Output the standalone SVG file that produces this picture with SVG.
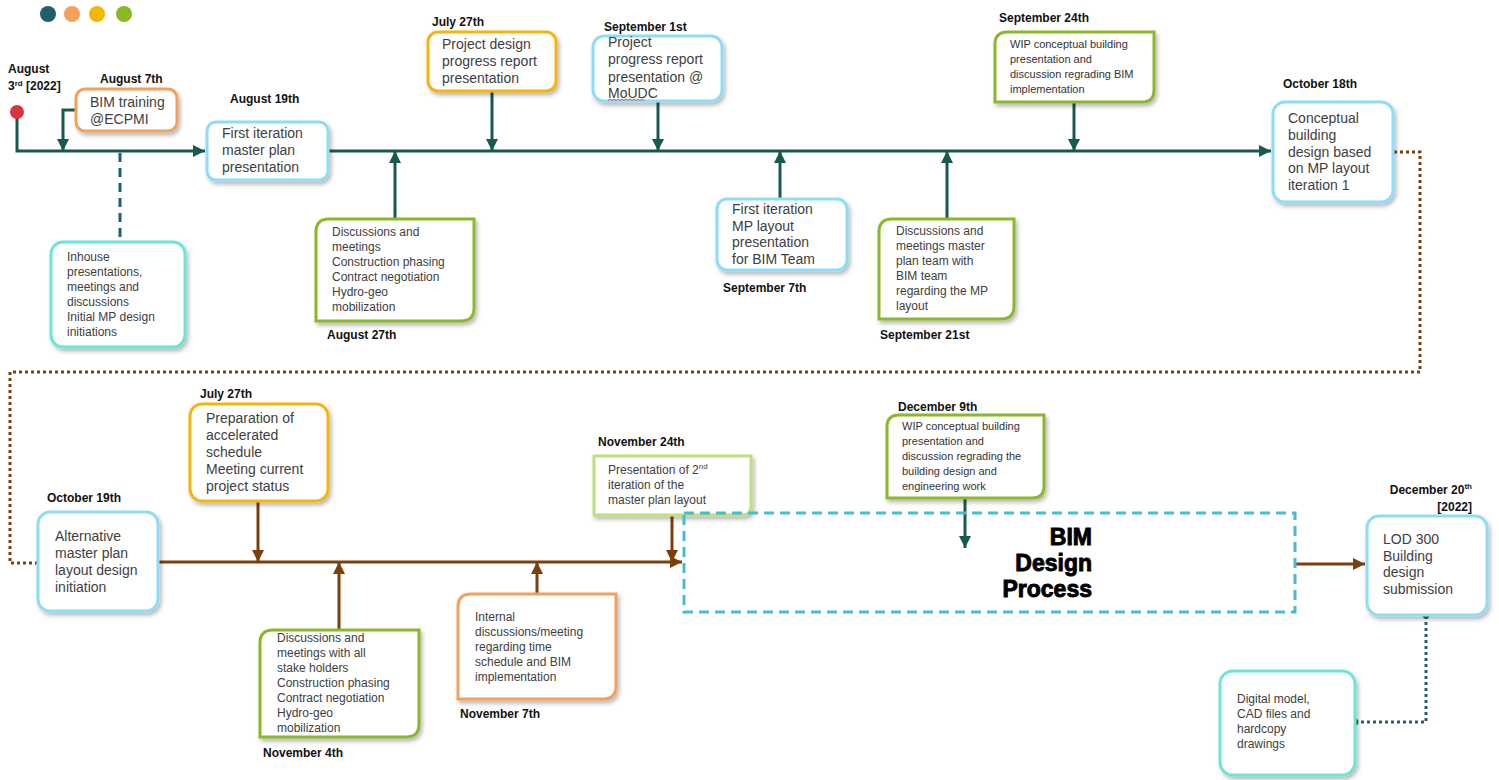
<svg xmlns="http://www.w3.org/2000/svg" width="1499" height="780" viewBox="0 0 1499 780">
<style>
.lbl{font-family:"Liberation Sans",Arial,sans-serif;font-weight:bold;font-size:12px;fill:#111}
.t14{font-family:"Liberation Sans",Arial,sans-serif;font-size:14px;fill:#404040}
.t12{font-family:"Liberation Sans",Arial,sans-serif;font-size:12px;fill:#404040}
.t11{font-family:"Liberation Sans",Arial,sans-serif;font-size:11px;fill:#333}
.box{fill:#fff;stroke-width:3}
.blue{stroke:#8fdcf7}.orange{stroke:#f2a05c}.yellow{stroke:#f5b50a}.green{stroke:#8ab82a}.turq{stroke:#6ae6d8}.lgreen{stroke:#b9e27c}
.tl{fill:none;stroke:#17594f;stroke-width:3}
.br{fill:none;stroke:#7b3f0a;stroke-width:3}
</style>
<defs>
<filter id="sh" x="-10%" y="-10%" width="130%" height="130%"><feDropShadow dx="2" dy="3" stdDeviation="2" flood-color="#000" flood-opacity="0.28"/></filter>
<marker id="at" markerUnits="userSpaceOnUse" markerWidth="12" markerHeight="12" viewBox="0 0 10 10" refX="10" refY="5" orient="auto"><path d="M0,0 L10,5 L0,10 z" fill="#17594f"/></marker>
<marker id="ab" markerUnits="userSpaceOnUse" markerWidth="12" markerHeight="12" viewBox="0 0 10 10" refX="10" refY="5" orient="auto"><path d="M0,0 L10,5 L0,10 z" fill="#7b3f0a"/></marker>
</defs>
<rect width="1499" height="780" fill="#fff"/>
<g id="legend-dots">
<circle cx="48" cy="14" r="8" fill="#1f5f6e"/>
<circle cx="72" cy="14" r="8" fill="#f2a05c"/>
<circle cx="97" cy="14" r="8" fill="#f5b800"/>
<circle cx="124" cy="14" r="8" fill="#8ab923"/>
</g>
<g id="connectors">
<path class="tl" d="M17,118 V151 H205" marker-end="url(#at)"/>
<path class="tl" d="M76,110 H63 V151" marker-end="url(#at)"/>
<path class="tl" d="M328,151 H1271" marker-end="url(#at)"/>
<path d="M120,153 V241" fill="none" stroke="#1f5f6e" stroke-width="3" stroke-dasharray="9,6"/>
<path class="tl" d="M395,219 V151" marker-end="url(#at)"/>
<path class="tl" d="M492,91 V151" marker-end="url(#at)"/>
<path class="tl" d="M658,102 V151" marker-end="url(#at)"/>
<path class="tl" d="M780,199 V151" marker-end="url(#at)"/>
<path class="tl" d="M947,218 V151" marker-end="url(#at)"/>
<path class="tl" d="M1074,103 V151" marker-end="url(#at)"/>
<path d="M1394,152 H1420 V372 H10 V563 H37" fill="none" stroke="#7b3f0a" stroke-width="3" stroke-dasharray="3,3"/>
<path class="br" d="M158,562 H682" marker-end="url(#ab)"/>
<path class="br" d="M258,501 V562" marker-end="url(#ab)"/>
<path class="br" d="M339,629 V562" marker-end="url(#ab)"/>
<path class="br" d="M537,593 V562" marker-end="url(#ab)"/>
<path class="br" d="M672,516 V562" marker-end="url(#ab)"/>
<path class="tl" d="M965,499 V548" marker-end="url(#at)"/>
<path class="br" d="M1296,564 H1365" marker-end="url(#ab)"/>
<path d="M1426,616 V722 H1357" fill="none" stroke="#2a5d6e" stroke-width="3" stroke-dasharray="3,3"/>
<circle cx="1426" cy="615" r="3.5" fill="#2e7d1e"/>
<circle cx="1355" cy="722" r="3.5" fill="#2e7d1e"/>
</g>
<g id="start">
<circle cx="17" cy="112" r="7" fill="#d9343f"/>
<text class="lbl" x="8" y="73">August</text>
<text class="lbl" x="8" y="90">3<tspan font-size="8" dy="-4">rd</tspan><tspan dy="4"> [2022]</tspan></text>
</g>
<g id="n-aug7">
<rect class="box orange" x="76" y="89" width="101" height="42" rx="9" filter="url(#sh)"/>
<text class="lbl" x="100" y="83">August 7th</text>
<text class="t14" x="90" y="107">BIM training</text>
<text class="t14" x="90" y="124">@ECPMI</text>
</g>
<g id="n-aug19">
<rect class="box blue" x="207" y="122" width="121" height="58" rx="9" filter="url(#sh)"/>
<text class="lbl" x="230" y="103">August 19th</text>
<text class="t14" x="222" y="138">First iteration</text>
<text class="t14" x="222" y="155">master plan</text>
<text class="t14" x="222" y="172">presentation</text>
</g>
<g id="n-inhouse">
<rect class="box turq" x="51" y="242" width="134" height="105" rx="12" filter="url(#sh)"/>
<text class="t12" x="67" y="261">Inhouse</text>
<text class="t12" x="67" y="276">presentations,</text>
<text class="t12" x="67" y="291">meetings and</text>
<text class="t12" x="67" y="306">discussions</text>
<text class="t12" x="67" y="321">Initial MP design</text>
<text class="t12" x="67" y="336">initiations</text>
</g>
<g id="n-aug27">
<path class="box green" d="M329,219 H474 V308 Q474,321 461,321 H316 V232 Q316,219 329,219 Z" filter="url(#sh)"/>
<text class="lbl" x="327" y="339">August 27th</text>
<text class="t12" x="332" y="236">Discussions and</text>
<text class="t12" x="332" y="251">meetings</text>
<text class="t12" x="332" y="266">Construction phasing</text>
<text class="t12" x="332" y="281">Contract negotiation</text>
<text class="t12" x="332" y="296">Hydro-geo</text>
<text class="t12" x="332" y="311">mobilization</text>
</g>
<g id="n-jul27a">
<rect class="box yellow" x="428" y="32" width="128" height="59" rx="10" filter="url(#sh)"/>
<text class="lbl" x="432" y="26">July 27th</text>
<text class="t14" x="442" y="49">Project design</text>
<text class="t14" x="442" y="66">progress report</text>
<text class="t14" x="442" y="83">presentation</text>
</g>
<g id="n-sep1">
<rect class="box blue" x="593" y="36" width="129" height="65" rx="11" filter="url(#sh)"/>
<text class="lbl" x="604" y="31">September 1st</text>
<text class="t14" x="608" y="47">Project</text>
<text class="t14" x="608" y="64">progress report</text>
<text class="t14" x="608" y="82">presentation @</text>
<text class="t14" x="608" y="98">MoUDC</text>
<path d="M608,100.5 l2,-1.5 l2,1.5 l2,-1.5 l2,1.5 l2,-1.5 l2,1.5 l2,-1.5 l2,1.5 l2,-1.5 l2,1.5 l2,-1.5 l2,1.5 l2,-1.5 l2,1.5 l2,-1.5 l2,1.5 l2,-1.5 l2,1.5" fill="none" stroke="#e03030" stroke-width="0.8"/>
</g>
<g id="n-sep7">
<rect class="box blue" x="717" y="199" width="130" height="71" rx="10" filter="url(#sh)"/>
<text class="lbl" x="723" y="292">September 7th</text>
<text class="t14" x="732" y="214">First iteration</text>
<text class="t14" x="732" y="231">MP layout</text>
<text class="t14" x="732" y="247">presentation</text>
<text class="t14" x="732" y="264">for BIM Team</text>
</g>
<g id="n-sep21">
<path class="box green" d="M892,219 H1014 V306 Q1014,319 1001,319 H879 V232 Q879,219 892,219 Z" filter="url(#sh)"/>
<text class="lbl" x="880" y="339">September 21st</text>
<text class="t12" x="896" y="235">Discussions and</text>
<text class="t12" x="896" y="250">meetings master</text>
<text class="t12" x="896" y="265">plan team with</text>
<text class="t12" x="896" y="280">BIM team</text>
<text class="t12" x="896" y="295">regarding the MP</text>
<text class="t12" x="896" y="310">layout</text>
</g>
<g id="n-sep24">
<path class="box green" d="M1008,32 H1154 V90 Q1154,102 1142,102 H995 V44 Q995,32 1008,32 Z" filter="url(#sh)"/>
<text class="lbl" x="999" y="22">September 24th</text>
<text class="t11" x="1010" y="48">WIP conceptual building</text>
<text class="t11" x="1010" y="63">presentation and</text>
<text class="t11" x="1010" y="78">discussion regrading BIM</text>
<text class="t11" x="1010" y="93">implementation</text>
</g>
<g id="n-oct18">
<rect class="box blue" x="1273" y="102" width="120" height="100" rx="12" filter="url(#sh)"/>
<text class="lbl" x="1283" y="88">October 18th</text>
<text class="t14" x="1288" y="123">Conceptual</text>
<text class="t14" x="1288" y="140">building</text>
<text class="t14" x="1288" y="157">design based</text>
<text class="t14" x="1288" y="173">on MP layout</text>
<text class="t14" x="1288" y="190">iteration 1</text>
</g>
<g id="n-oct19">
<rect class="box blue" x="38" y="512" width="120" height="99" rx="12" filter="url(#sh)"/>
<text class="lbl" x="47" y="502">October 19th</text>
<text class="t14" x="55" y="541">Alternative</text>
<text class="t14" x="55" y="558">master plan</text>
<text class="t14" x="55" y="575">layout design</text>
<text class="t14" x="55" y="592">initiation</text>
</g>
<g id="n-jul27b">
<rect class="box yellow" x="190" y="404" width="138" height="97" rx="12" filter="url(#sh)"/>
<text class="lbl" x="200" y="398">July 27th</text>
<text class="t14" x="206" y="423">Preparation of</text>
<text class="t14" x="206" y="440">accelerated</text>
<text class="t14" x="206" y="457">schedule</text>
<text class="t14" x="206" y="474">Meeting current</text>
<text class="t14" x="206" y="491">project status</text>
</g>
<g id="n-nov4">
<path class="box green" d="M273,630 H419 V724 Q419,737 406,737 H260 V643 Q260,630 273,630 Z" filter="url(#sh)"/>
<text class="lbl" x="263" y="757">November 4th</text>
<text class="t12" x="277" y="642">Discussions and</text>
<text class="t12" x="277" y="657">meetings with all</text>
<text class="t12" x="277" y="672">stake holders</text>
<text class="t12" x="277" y="687">Construction phasing</text>
<text class="t12" x="277" y="702">Contract negotiation</text>
<text class="t12" x="277" y="717">Hydro-geo</text>
<text class="t12" x="277" y="732">mobilization</text>
</g>
<g id="n-nov7">
<path class="box orange" d="M471,594 H616 V686 Q616,699 603,699 H458 V607 Q458,594 471,594 Z" filter="url(#sh)"/>
<text class="lbl" x="460" y="718">November 7th</text>
<text class="t12" x="475" y="621">Internal</text>
<text class="t12" x="475" y="636">discussions/meeting</text>
<text class="t12" x="475" y="651">regarding time</text>
<text class="t12" x="475" y="666">schedule and BIM</text>
<text class="t12" x="475" y="681">implementation</text>
</g>
<g id="n-nov24">
<path class="box lgreen" d="M594,456 H751 V506 Q751,515 742,515 H594 Z" filter="url(#sh)"/>
<text class="lbl" x="598" y="446">November 24th</text>
<text class="t12" x="608" y="474">Presentation of 2<tspan font-size="8" dy="-5">nd</tspan></text>
<text class="t12" x="608" y="489">iteration of the</text>
<text class="t12" x="608" y="504">master plan layout</text>
</g>
<g id="n-bim">
<rect x="684" y="513" width="611" height="99" fill="none" stroke="#44bcd5" stroke-width="3" stroke-dasharray="10,6"/>
<g font-family="'Liberation Sans',Arial,sans-serif" font-weight="bold" font-size="23" fill="#000" stroke="#000" stroke-width="0.9" text-anchor="end">
<text x="1092" y="545">BIM</text>
<text x="1092" y="571">Design</text>
<text x="1092" y="597">Process</text>
</g>
</g>
<g id="n-dec9">
<path class="box green" d="M899,415 H1044 V486 Q1044,498 1032,498 H887 V427 Q887,415 899,415 Z" filter="url(#sh)"/>
<text class="lbl" x="898" y="411">December 9th</text>
<text class="t11" x="902" y="430">WIP conceptual building</text>
<text class="t11" x="902" y="445">presentation and</text>
<text class="t11" x="902" y="460">discussion regrading the</text>
<text class="t11" x="902" y="475">building design and</text>
<text class="t11" x="902" y="490">engineering work</text>
</g>
<g id="n-dec20">
<rect class="box blue" x="1367" y="516" width="120" height="99" rx="12" filter="url(#sh)"/>
<text class="lbl" x="1472" y="494" text-anchor="end">December 20<tspan font-size="8" dy="-5">th</tspan></text>
<text class="lbl" x="1472" y="511" text-anchor="end">[2022]</text>
<text class="t14" x="1383" y="544">LOD 300</text>
<text class="t14" x="1383" y="561">Building</text>
<text class="t14" x="1383" y="577">design</text>
<text class="t14" x="1383" y="594">submission</text>
</g>
<g id="n-digital">
<rect class="box turq" x="1220" y="671" width="135" height="104" rx="13" filter="url(#sh)"/>
<text class="t12" x="1237" y="703">Digital model,</text>
<text class="t12" x="1237" y="718">CAD files and</text>
<text class="t12" x="1237" y="733">hardcopy</text>
<text class="t12" x="1237" y="748">drawings</text>
</g>
</svg>
